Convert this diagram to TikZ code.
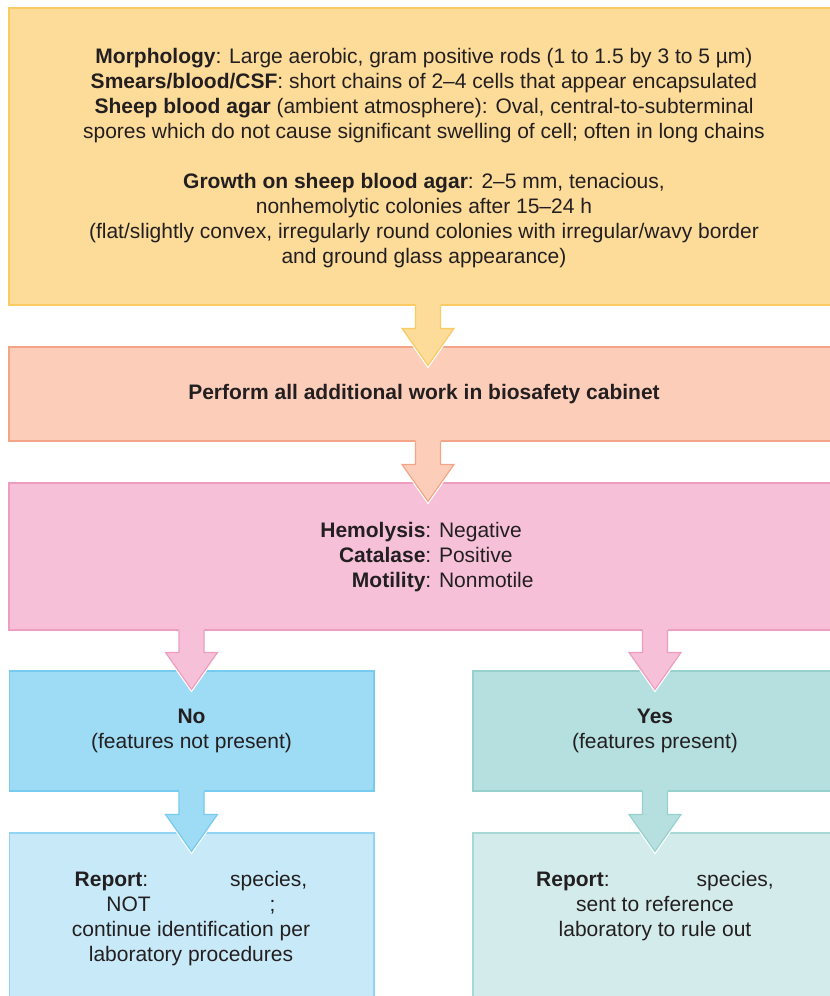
\documentclass[tikz,border=0pt]{standalone}
\usepackage{fontspec}
\setmainfont{Liberation Sans}
\usetikzlibrary{calc}
\definecolor{txt}{HTML}{231F20}
\definecolor{f1}{HTML}{FDDC9A}\definecolor{d1}{HTML}{FBCB63}
\definecolor{f2}{HTML}{FCCEBA}\definecolor{d2}{HTML}{F5A587}
\definecolor{f3}{HTML}{F6C1D8}\definecolor{d3}{HTML}{EE9DC0}
\definecolor{f4}{HTML}{9EDCF6}\definecolor{d4}{HTML}{76CBEF}
\definecolor{f5}{HTML}{B6E0DF}\definecolor{d5}{HTML}{96D1CD}
\definecolor{f6}{HTML}{C8E9F8}\definecolor{d6}{HTML}{90D4F2}
\definecolor{f7}{HTML}{D4EBEB}\definecolor{d7}{HTML}{A7D8D5}
\newcommand{\blockarrow}[5]{%
  \path (#3,0) coordinate (ax);
  \path (#1.south -| ax) coordinate (as);
  \path (#2.north -| ax) ++(0,19) coordinate (at);
  \path (at) ++(0,-37) coordinate (ah);
  \draw[white,line width=3.5pt] ($(ah)+(-26,0)$) -- (at) -- ($(ah)+(26,0)$);
  \fill[#4] ($(as)+(-12.5,-1.5)$) -- ($(ah)+(-12.5,0)$) -- ($(ah)+(-26,0)$) -- (at)
     -- ($(ah)+(26,0)$) -- ($(ah)+(12.5,0)$) -- ($(as)+(12.5,-1.5)$) -- cycle;
  \draw[#5,line width=1.2pt,line join=miter] ($(as)+(-12.5,0)$) -- ($(ah)+(-12.5,0)$) -- ($(ah)+(-26,0)$) -- (at)
     -- ($(ah)+(26,0)$) -- ($(ah)+(12.5,0)$) -- ($(as)+(12.5,0)$);
}
\tikzset{
  box/.style={rectangle,inner sep=0pt,line width=1.2pt,text=txt,align=center,
    font=\fontsize{21}{25}\selectfont},
  lbl/.style={inner sep=0pt,text=txt,align=center,font=\fontsize{21}{25}\selectfont}
}
\begin{document}
\begin{tikzpicture}[x=1pt,y=-1pt]
\clip (0,0) rectangle (830,996);
\fill[white] (0,0) rectangle (830,996);
\node[box,fill=f1,draw=d1,minimum width=831pt,minimum height=297pt] (top) at (424.5,156.5) {};
\node[lbl] (toptxt) at (424,158) {\textbf{Morphology}: Large aerobic, gram positive rods (1 to 1.5 by 3 to 5 µm)\\
\textbf{Smears/blood/CSF}: short chains of 2–4 cells that appear encapsulated\\
\textbf{Sheep blood agar} (ambient atmosphere): Oval, central-to-subterminal\\
spores which do not cause significant swelling of cell; often in long chains\\[25pt]
\textbf{Growth on sheep blood agar}: 2–5 mm, tenacious,\\
nonhemolytic colonies after 15–24 h\\
(flat/slightly convex, irregularly round colonies with irregular/wavy border\\
and ground glass appearance)};
\node[box,fill=f2,draw=d2,minimum width=831pt,minimum height=94pt] (bsc) at (424.5,394) {};
\node[lbl] (bsctxt) at (424,394) {\textbf{Perform all additional work in biosafety cabinet}};
\node[box,fill=f3,draw=d3,minimum width=831pt,minimum height=147pt] (tests) at (424.5,556.5) {};
\node[lbl] (teststxt) at (427,557.5) {\begin{tabular}{@{}r@{}l@{}}
\textbf{Hemolysis}&: Negative\\
\textbf{Catalase}&: Positive\\
\textbf{Motility}&: Nonmotile\end{tabular}};
\node[box,fill=f4,draw=d4,minimum width=364.5pt,minimum height=120pt] (no) at (191.75,731) {};
\node[lbl] (notxt) at (191.5,731) {\textbf{No}\\(features not present)};
\node[box,fill=f5,draw=d5,minimum width=367pt,minimum height=120pt] (yes) at (656.5,731) {};
\node[lbl] (yestxt) at (655,731) {\textbf{Yes}\\(features present)};
\node[box,fill=f6,draw=d6,minimum width=364.5pt,minimum height=177pt] (repno) at (191.75,921.5) {};
\node[lbl] (repnotxt) at (191,918.5) {\textbf{Report}:\hspace{82pt}species,\\
NOT\hspace{119pt};\\
continue identification per\\
laboratory procedures};
\node[box,fill=f7,draw=d7,minimum width=367pt,minimum height=177pt] (repyes) at (656.5,921.5) {};
\node[lbl] (repyestxt) at (655,906) {\textbf{Report}:\hspace{87pt}species,\\
sent to reference\\
laboratory to rule out};
\blockarrow{top}{bsc}{428}{f1}{d1}
\blockarrow{bsc}{tests}{428}{f2}{d2}
\blockarrow{tests}{no}{191.5}{f3}{d3}
\blockarrow{tests}{yes}{655}{f3}{d3}
\blockarrow{no}{repno}{191.5}{f4}{d4}
\blockarrow{yes}{repyes}{655}{f5}{d5}
\end{tikzpicture}
\end{document}
